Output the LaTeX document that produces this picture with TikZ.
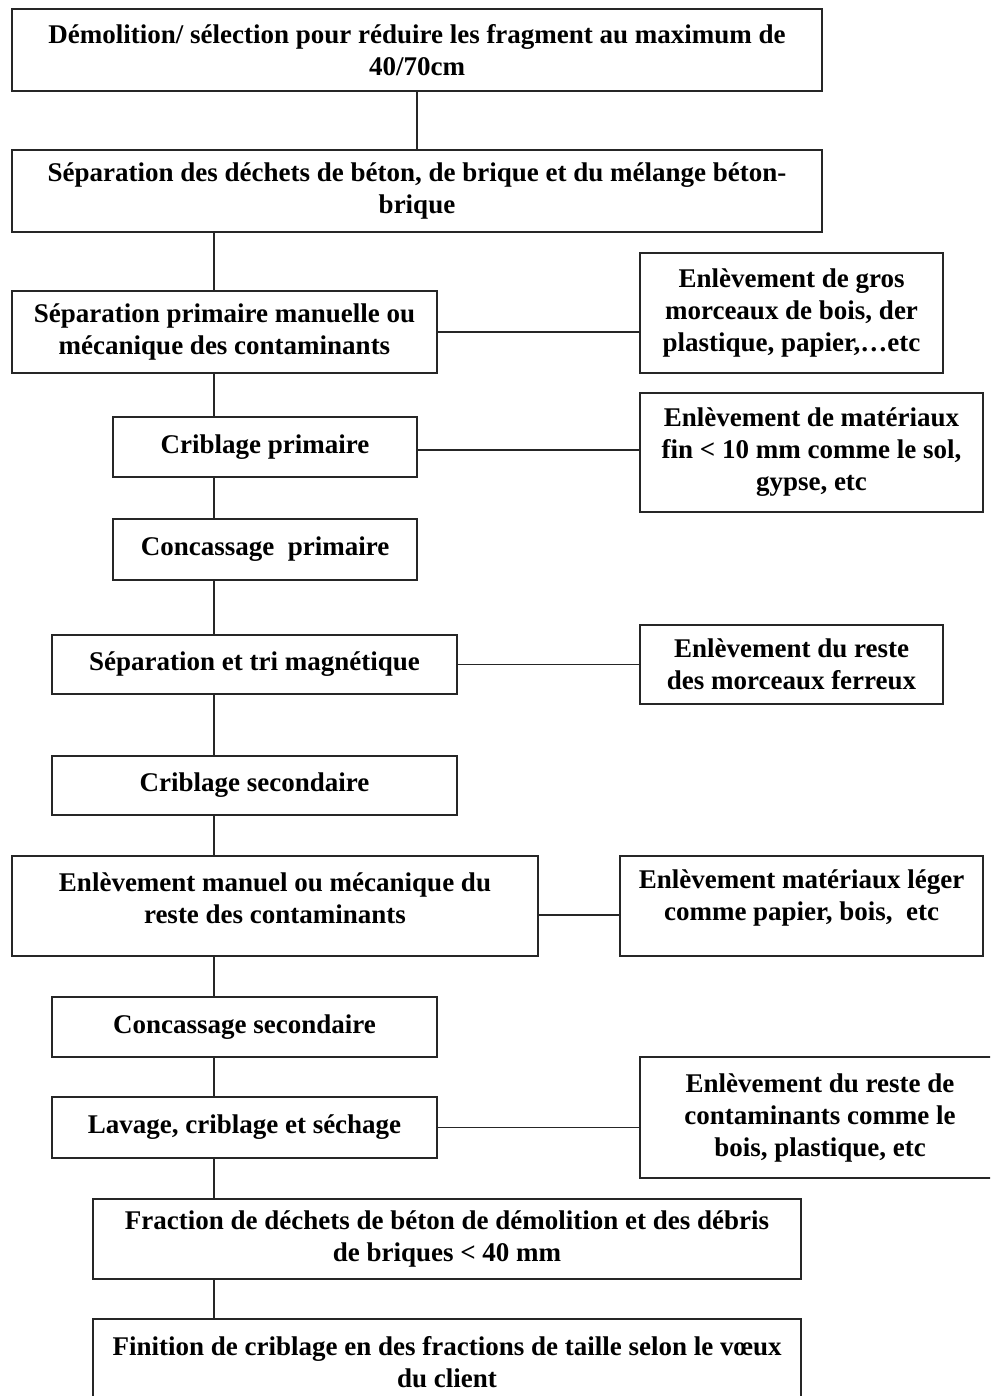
\documentclass[tikz,border=0pt]{standalone}
\usepackage{fontspec}
\setmainfont{Liberation Serif}
\begin{document}
\begin{tikzpicture}[x=1pt,y=-1pt,
  boxs/.style={draw=black!85, line width=1.3pt, inner sep=0pt, fill=white},
  txt/.style={align=center, inner sep=0pt, font=\fontsize{27}{32}\selectfont\bfseries},
  conn/.style={draw=black!85, line width=1.3pt}]
\useasboundingbox (0,0) rectangle (990,1396);
\clip (0,0) rectangle (990,1396);
\fill[white] (0,0) rectangle (990,1396);
\coordinate (sp) at (214,0);
% boxes
\node[boxs, minimum width=810, minimum height=82] (b1) at (417,50) {};
\node[boxs, minimum width=810, minimum height=82] (b2) at (417,191) {};
\node[boxs, minimum width=425, minimum height=82] (b3) at (224.5,332) {};
\node[boxs, minimum width=303, minimum height=120] (a) at (791.5,313) {};
\node[boxs, minimum width=304, minimum height=60] (b4) at (265,447) {};
\node[boxs, minimum width=343, minimum height=119] (b) at (811.5,452.5) {};
\node[boxs, minimum width=304, minimum height=61] (b5) at (265,549.5) {};
\node[boxs, minimum width=405, minimum height=59] (b6) at (254.5,664.5) {};
\node[boxs, minimum width=303, minimum height=79] (c) at (791.5,664.5) {};
\node[boxs, minimum width=405, minimum height=59] (b7) at (254.5,785.5) {};
\node[boxs, minimum width=526, minimum height=100] (b8) at (275,906) {};
\node[boxs, minimum width=363, minimum height=100] (d) at (801.5,906) {};
\node[boxs, minimum width=385, minimum height=60] (b9) at (244.5,1027) {};
\node[boxs, minimum width=385, minimum height=61] (b10) at (244.5,1127.5) {};
\node[boxs, minimum width=360, minimum height=121] (e) at (820,1117.5) {};
\node[boxs, minimum width=708, minimum height=80] (b11) at (447,1239) {};
\node[boxs, minimum width=708, minimum height=86] (b12) at (447,1362) {};
% texts
\node[txt] (t1) at (b1.center) {Démolition/ sélection pour réduire les fragment au maximum de\\40/70cm};
\node[txt] (t2) at (b2.center) {Séparation des déchets de béton, de brique et du mélange béton-\\brique};
\node[txt] (t3) at (b3.center) {Séparation primaire manuelle ou\\mécanique des contaminants};
\node[txt] (ta) at (a.center) {Enlèvement de gros\\morceaux de bois, der\\plastique, papier,\dots etc};
\node[txt] (t4) at (b4.center) {Criblage primaire};
\node[txt] (tb) at (b.center) {Enlèvement de matériaux\\fin < 10 mm comme le sol,\\gypse, etc};
\node[txt] (t5) at (b5.center) {Concassage\ \ primaire};
\node[txt] (t6) at (b6.center) {Séparation et tri magnétique};
\node[txt] (tc) at (c.center) {Enlèvement du reste\\des morceaux ferreux};
\node[txt] (t7) at (b7.center) {Criblage secondaire};
\node[txt] (t8) at ([yshift=8]b8.center) {Enlèvement manuel ou mécanique du\\reste des contaminants};
\node[txt] (td) at ([yshift=8]d.center) {Enlèvement matériaux léger\\comme papier, bois,\ \ etc};
\node[txt] (t9) at (b9.center) {Concassage secondaire};
\node[txt] (t10) at (b10.center) {Lavage, criblage et séchage};
\node[txt] (te) at (e.center) {Enlèvement du reste de\\contaminants comme le\\bois, plastique, etc};
\node[txt] (t11) at (b11.center) {Fraction de déchets de béton de démolition et des débris\\de briques < 40 mm};
\node[txt] (t12) at (b12.center) {Finition de criblage en des fractions de taille selon le vœux\\du client};
% connectors
\draw[conn] (b1.south) -- (b2.north);
\draw[conn] (b2.south -| sp) -- (b3.north -| sp);
\draw[conn] (b3.south -| sp) -- (b4.north -| sp);
\draw[conn] (b4.south -| sp) -- (b5.north -| sp);
\draw[conn] (b5.south -| sp) -- (b6.north -| sp);
\draw[conn] (b6.south -| sp) -- (b7.north -| sp);
\draw[conn] (b7.south -| sp) -- (b8.north -| sp);
\draw[conn] (b8.south -| sp) -- (b9.north -| sp);
\draw[conn] (b9.south -| sp) -- (b10.north -| sp);
\draw[conn] (b10.south -| sp) -- (b11.north -| sp);
\draw[conn] (b11.south -| sp) -- (b12.north -| sp);
\draw[conn] (b3.east) -- (b3.east -| a.west);
\draw[conn] ([yshift=-3]b4.east) -- ([yshift=-3]b4.east -| b.west);
\draw[conn] (b6.east) -- (b6.east -| c.west);
\draw[conn] ([yshift=-9]b8.east) -- ([yshift=-9]b8.east -| d.west);
\draw[conn] (b10.east) -- (b10.east -| e.west);
\end{tikzpicture}
\end{document}
